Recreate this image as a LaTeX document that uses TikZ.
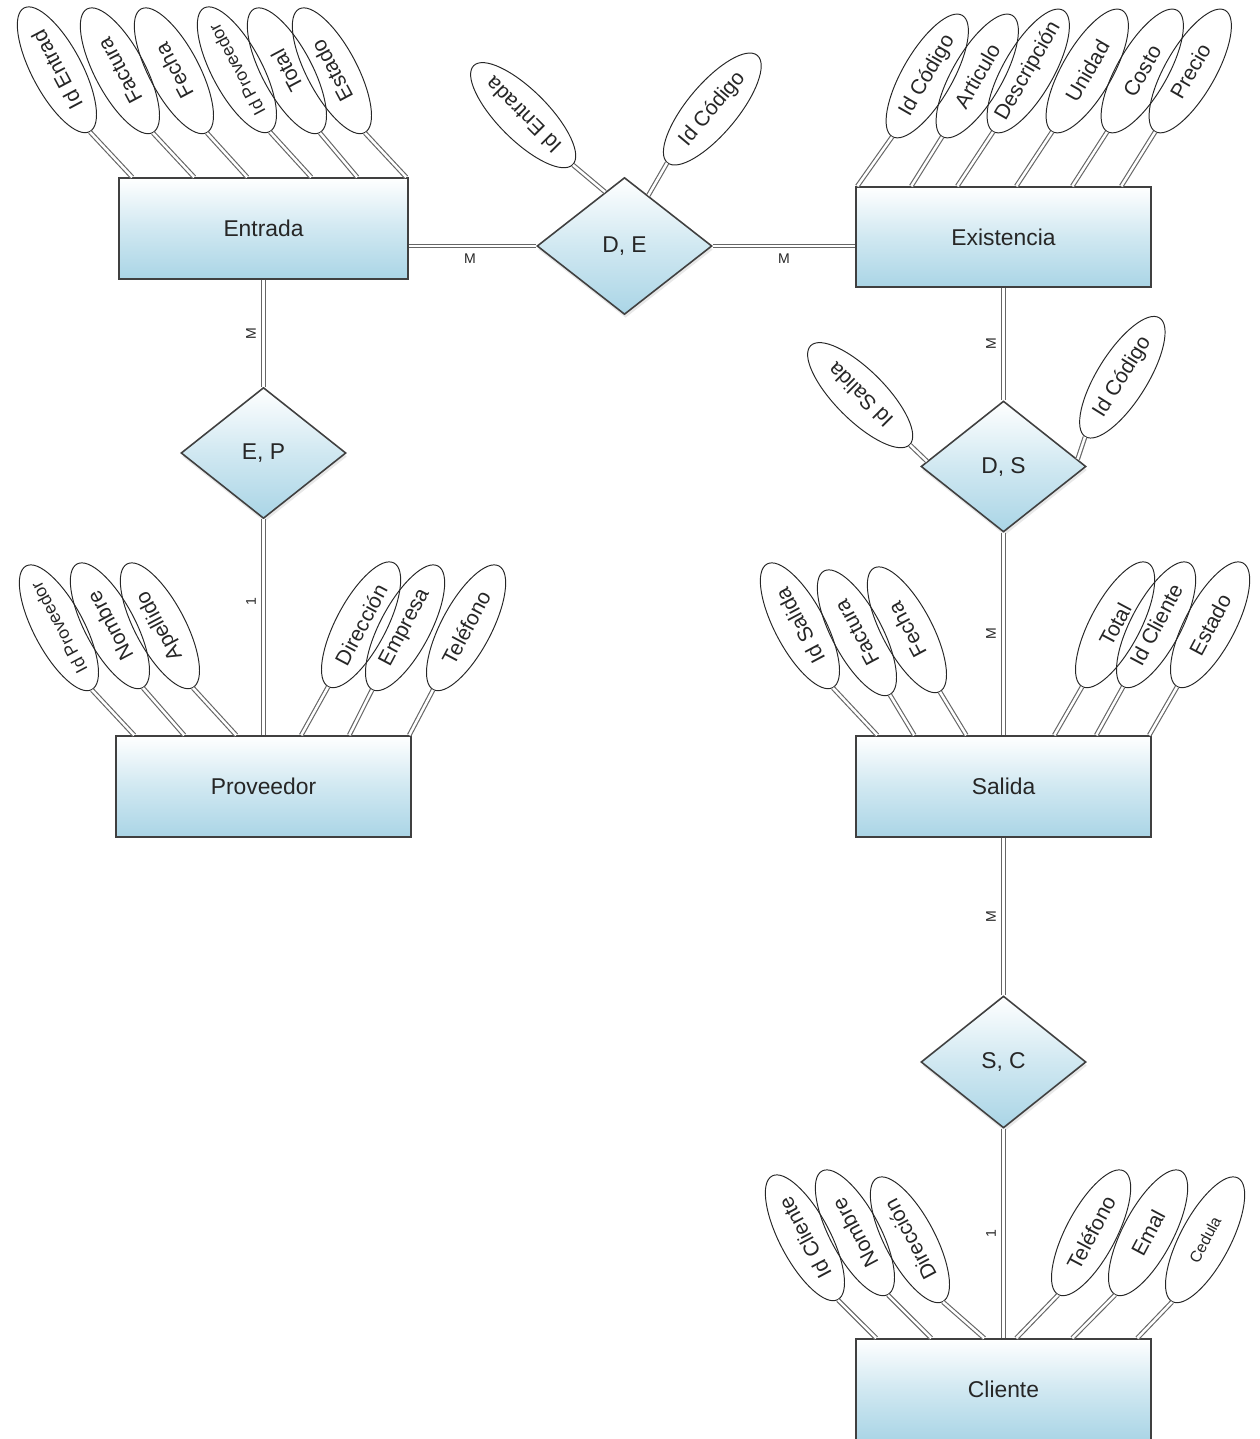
\documentclass[tikz,border=0pt]{standalone}
\usepackage{fontspec}
\setmainfont{Liberation Sans}
\usetikzlibrary{shapes.geometric,shadows,calc}
\definecolor{erblue}{RGB}{170,213,230}
\definecolor{erline}{RGB}{64,64,64}

\begin{document}
\begin{tikzpicture}[x=0.02cm, y=0.02cm,
  entidad/.style={draw=erline, line width=0.9pt, top color=white, bottom color=erblue,
    middle color=erblue!55!white, text=black!85, minimum width=5.9cm, minimum height=2.02cm,
    font=\fontsize{13}{15}\selectfont},
  relacion/.style={diamond, draw=erline, line width=0.9pt, top color=white, bottom color=erblue,
    middle color=erblue!55!white, text=black!85, minimum width=3.3cm, minimum height=2.62cm,
    inner sep=0pt, font=\fontsize{13}{15}\selectfont,
    drop shadow={opacity=0.18, shadow xshift=0.6pt, shadow yshift=-2pt}},
  atributo/.style={ellipse, draw=black!85, line width=0.55pt, minimum width=2.8cm,
    minimum height=1cm, inner xsep=-8pt, inner ysep=0pt, text=black!85,
    font=\fontsize{12}{14}\selectfont},
  enlace/.style={draw=black!60, line width=0.65pt, double=white, double distance=1.4pt},
  cardinal/.style={font=\fontsize{8}{9}\selectfont, text=black!85, inner sep=4pt}]
\useasboundingbox (0,0) rectangle (1259,-1439);

% entidades
\node[entidad, minimum width=5.78cm] (entrada) at (263.5,-228.5) {Entrada};
\node[entidad, minimum height=2cm] (existencia) at (1003.5,-237) {Existencia};
\node[entidad] (proveedor) at (263.5,-786.5) {Proveedor};
\node[entidad] (salida) at (1003.5,-786.5) {Salida};
\node[entidad] (cliente) at (1003.5,-1389.5) {Cliente};

% relaciones
\node[relacion, minimum width=3.5cm, minimum height=2.74cm] (de) at (624.5,-246) {D, E};
\node[relacion] (ep) at (263.5,-453) {E, P};
\node[relacion] (ds) at (1003.5,-466.5) {D, S};
\node[relacion, minimum height=2.64cm] (sc) at (1003.5,-1062) {S, C};

% enlaces entre entidades y relaciones
\draw[enlace] (entrada.east |- de.west) -- (de.west) node[pos=0.48, below, cardinal] {M};
\draw[enlace] (de.east) -- (de.east -| existencia.west) node[midway, below, cardinal] {M};
\draw[enlace] (entrada.south) -- (ep.north) node[midway, rotate=90, above, cardinal] {M};
\draw[enlace] (ep.south) -- (proveedor.north) node[pos=0.38, rotate=90, above, cardinal] {1};
\draw[enlace] (existencia.south) -- (ds.north) node[midway, rotate=90, above, cardinal] {M};
\draw[enlace] (ds.south) -- (salida.north) node[midway, rotate=90, above, cardinal] {M};
\draw[enlace] (salida.south) -- (sc.north) node[midway, rotate=90, above, cardinal] {M};
\draw[enlace] (sc.south) -- (cliente.north) node[midway, rotate=90, above, cardinal] {1};

% atributos de Entrada
\node[atributo, rotate=118, anchor=west] (en1) at (90,-132) {Id Entrad};
\node[atributo, rotate=118, anchor=west] (en2) at (153,-133) {Factura};
\node[atributo, rotate=118, anchor=west] (en3) at (207,-133) {Fecha};
\node[atributo, rotate=118, anchor=west, font=\fontsize{10}{12}\selectfont] (en4) at (270,-132) {Id Proveedor};
\node[atributo, rotate=118, anchor=west] (en5) at (320,-133) {Total};
\node[atributo, rotate=118, anchor=west] (en6) at (365,-133) {Estado};
\draw[enlace] (en1.west) -- ($(entrada.north west)+(14,0)$);
\draw[enlace] (en2.west) -- ($(entrada.north west)+(76,0)$);
\draw[enlace] (en3.west) -- ($(entrada.north west)+(129,0)$);
\draw[enlace] (en4.west) -- ($(entrada.north west)+(193,0)$);
\draw[enlace] (en5.west) -- ($(entrada.north west)+(239,0)$);
\draw[enlace] (en6.west) -- ($(entrada.north west)+(288,0)$);

% atributos de D, E
\node[atributo, rotate=135, anchor=west] (de1) at (573,-165) {Id Entrada};
\node[atributo, rotate=50, anchor=west] (de2) at (667,-163) {Id Código};
\draw[enlace] (de1.west) -- ($(de.north)!0.22!(de.west)$);
\draw[enlace] (de2.west) -- ($(de.north)!0.27!(de.east)$);

% atributos de Existencia
\node[atributo, rotate=60, anchor=west] (ex1) at (892,-137) {Id Código};
\node[atributo, rotate=60, anchor=west] (ex2) at (942,-137) {Articulo};
\node[atributo, rotate=60, anchor=west] (ex3) at (993,-132) {Descripción};
\node[atributo, rotate=60, anchor=west] (ex4) at (1052,-132) {Unidad};
\node[atributo, rotate=60, anchor=west] (ex5) at (1107,-132) {Costo};
\node[atributo, rotate=60, anchor=west] (ex6) at (1155,-132) {Precio};
\draw[enlace] (ex1.west) -- ($(existencia.north west)+(2,0)$);
\draw[enlace] (ex2.west) -- ($(existencia.north west)+(56,0)$);
\draw[enlace] (ex3.west) -- ($(existencia.north west)+(102,0)$);
\draw[enlace] (ex4.west) -- ($(existencia.north west)+(161,0)$);
\draw[enlace] (ex5.west) -- ($(existencia.north west)+(217,0)$);
\draw[enlace] (ex6.west) -- ($(existencia.north west)+(266,0)$);

% atributos de Proveedor
\node[atributo, rotate=118, anchor=west, font=\fontsize{10}{12}\selectfont] (pr1) at (92,-690) {Id Proveedor};
\node[atributo, rotate=118, anchor=west] (pr2) at (143,-688) {Nombre};
\node[atributo, rotate=118, anchor=west] (pr3) at (193,-688) {Apellido};
\node[atributo, rotate=62, anchor=west] (pr4) at (328,-687) {Dirección};
\node[atributo, rotate=62, anchor=west] (pr5) at (372,-690) {Empresa};
\node[atributo, rotate=62, anchor=west] (pr6) at (433,-690) {Teléfono};
\draw[enlace] (pr1.west) -- ($(proveedor.north west)+(19,0)$);
\draw[enlace] (pr2.west) -- ($(proveedor.north west)+(69,0)$);
\draw[enlace] (pr3.west) -- ($(proveedor.north west)+(121,0)$);
\draw[enlace] (pr4.west) -- ($(proveedor.north west)+(186,0)$);
\draw[enlace] (pr5.west) -- ($(proveedor.north west)+(234,0)$);
\draw[enlace] (pr6.west) -- ($(proveedor.north west)+(294,0)$);

% atributos de D, S
\node[atributo, rotate=135, anchor=west] (ds1) at (910,-445) {Id Salida};
\node[atributo, rotate=58, anchor=west] (ds2) at (1085,-437) {Id Código};
\draw[enlace] (ds1.west) -- ($(ds.north)!0.92!(ds.west)$);
\draw[enlace] (ds2.west) -- ($(ds.north)!0.89!(ds.east)$);

% atributos de Salida
\node[atributo, rotate=118, anchor=west] (sa1) at (833,-688) {Id Salida};
\node[atributo, rotate=118, anchor=west] (sa2) at (890,-695) {Factura};
\node[atributo, rotate=118, anchor=west] (sa3) at (940,-692) {Fecha};
\node[atributo, rotate=62, anchor=west] (sa4) at (1082,-687) {Total};
\node[atributo, rotate=62, anchor=west] (sa5) at (1123,-687) {Id Cliente};
\node[atributo, rotate=62, anchor=west] (sa6) at (1177,-687) {Estado};
\draw[enlace] (sa1.west) -- ($(salida.north west)+(22,0)$);
\draw[enlace] (sa2.west) -- ($(salida.north west)+(59,0)$);
\draw[enlace] (sa3.west) -- ($(salida.north west)+(111,0)$);
\draw[enlace] (sa4.west) -- ($(salida.north west)+(199,0)$);
\draw[enlace] (sa5.west) -- ($(salida.north west)+(241,0)$);
\draw[enlace] (sa6.west) -- ($(salida.north west)+(294,0)$);

% atributos de Cliente
\node[atributo, rotate=118, anchor=west] (cl1) at (838,-1300) {Id Cliente};
\node[atributo, rotate=118, anchor=west] (cl2) at (888,-1295) {Nombre};
\node[atributo, rotate=118, anchor=west] (cl3) at (943,-1302) {Dirección};
\node[atributo, rotate=62, anchor=west] (cl4) at (1058,-1295) {Teléfono};
\node[atributo, rotate=62, anchor=west] (cl5) at (1115,-1295) {Emal};
\node[atributo, rotate=62, anchor=west, font=\fontsize{9}{11}\selectfont] (cl6) at (1172,-1302) {Cedula};
\draw[enlace] (cl1.west) -- ($(cliente.north west)+(21,0)$);
\draw[enlace] (cl2.west) -- ($(cliente.north west)+(76,0)$);
\draw[enlace] (cl3.west) -- ($(cliente.north west)+(129,0)$);
\draw[enlace] (cl4.west) -- ($(cliente.north west)+(161,0)$);
\draw[enlace] (cl5.west) -- ($(cliente.north west)+(217,0)$);
\draw[enlace] (cl6.west) -- ($(cliente.north west)+(282,0)$);
\end{tikzpicture}
\end{document}
